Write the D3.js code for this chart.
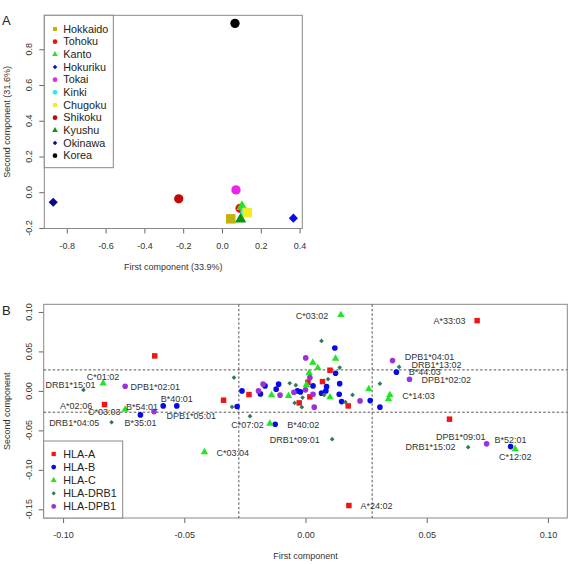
<!DOCTYPE html>
<html>
<head>
<meta charset="utf-8">
<script src="https://cdn.jsdelivr.net/npm/d3@7"></script>
<style>
  body { margin: 0; background: #fff; }
  svg { font-family: "Liberation Sans", Arial, sans-serif; }
</style>
</head>
<body>
<div id="chart"></div>
<script>
// ---- panel A : regions ----
const regions = ['Hokkaido', 'Tohoku', 'Kanto', 'Hokuriku', 'Tokai', 'Kinki', 'Chugoku', 'Shikoku', 'Kyushu', 'Okinawa', 'Korea'];
const regionPC1 = [0.045, 0.093, 0.103, 0.368, 0.072, 0.118, 0.130, -0.223, 0.096, -0.870, 0.067];
const regionPC2 = [-0.149, -0.090, -0.081, -0.145, 0.013, -0.112, -0.114, -0.037, -0.151, -0.056, 0.945];
const regionShapes = ['square', 'circle', 'triangle', 'diamond', 'circle', 'circle', 'square', 'circle', 'triangle', 'diamond', 'circle'];
const regionColors = ['#c2b20c', '#f01010', '#22e622', '#0a0ae6', '#ee22ee', '#22eeee', '#eeee22', '#c00808', '#0a960a', '#0a0a82', '#000000'];
const xTicksA = [-0.8, -0.6, -0.4, -0.2, 0.0, 0.2, 0.4];
const xTickLabelsA = ['-0.8', '-0.6', '-0.4', '-0.2', '0.0', '0.2', '0.4'];
const yTicksA = [-0.2, 0.0, 0.2, 0.4, 0.6, 0.8];
const yTickLabelsA = ['-0.2', '0.0', '0.2', '0.4', '0.6', '0.8'];

// ---- panel B : alleles [PC1, PC2, label] ----
const hlaA = [
  [-0.0622, 0.0443, ''], [-0.0829, -0.0173, 'A*02:06'], [-0.0338, -0.0118, ''], [-0.0233, -0.0046, ''],
  [-0.0026, -0.0152, ''], [0.0018, -0.0076, ''], [0.0070, 0.0118, ''], [0.0010, 0.0110, ''],
  [0.0101, 0.0262, ''], [0.0176, -0.0190, ''], [0.0708, 0.0890, 'A*33:03'], [0.0594, -0.0358, ''],
  [0.0179, -0.1452, 'A*24:02']
];
const hlaB = [
  [-0.0681, -0.0304, 'B*35:01'], [-0.0587, -0.0190, 'B*54:01'], [-0.0531, -0.0190, 'B*40:01'],
  [-0.0282, -0.0198, ''], [-0.0262, 0.0000, ''], [-0.0186, -0.0038, ''], [-0.0167, 0.0063, ''],
  [-0.0111, 0.0085, ''], [-0.0121, 0.0022, ''], [-0.0125, -0.0422, 'B*40:02'], [-0.0033, 0.0000, ''],
  [-0.0021, -0.0013, ''], [0.0031, 0.0063, ''], [0.0087, 0.0054, ''], [0.0084, 0.0000, ''],
  [0.0066, -0.0029, ''], [0.0121, 0.0544, ''], [0.0141, 0.0092, ''], [0.0124, 0.0224, ''],
  [0.0139, -0.0042, ''], [0.0149, -0.0135, ''], [0.0267, -0.0123, ''], [0.0307, -0.0206, ''],
  [0.0375, 0.0237, 'B*44:03'], [0.0846, -0.0705, 'B*52:01']
];
const hlaC = [
  [-0.0835, 0.0097, 'C*01:02'], [-0.0744, -0.0236, 'C*03:03'], [-0.0417, -0.0776, 'C*03:04'],
  [-0.0147, -0.0414, 'C*07:02'], [-0.0140, -0.0054, ''], [-0.0070, -0.0063, ''], [0.0004, 0.0076, ''],
  [0.0015, 0.0228, ''], [0.0030, 0.0358, ''], [0.0051, 0.0291, ''], [0.0124, 0.0409, ''],
  [0.0146, 0.0962, 'C*03:02'], [0.0101, -0.0080, ''], [0.0261, 0.0022, ''],
  [0.0348, -0.0051, 'C*14:03'], [0.0342, -0.0105, ''], [0.0865, -0.0738, 'C*12:02']
];
const hlaDRB1 = [
  [-0.0916, 0.0013, 'DRB1*15:01'], [-0.0800, -0.0397, 'DRB1*04:05'], [-0.0295, 0.0169, ''],
  [-0.0303, -0.0203, ''], [-0.0229, -0.0320, ''], [-0.0065, 0.0097, ''], [-0.0040, 0.0072, ''],
  [-0.0045, -0.0152, ''], [-0.0012, -0.0085, ''], [-0.0015, -0.0206, ''], [0.0066, 0.0633, ''],
  [0.0093, 0.0148, ''], [0.0077, -0.0051, ''], [0.0141, 0.0295, ''], [0.0194, -0.0051, ''],
  [0.0165, -0.0143, ''], [0.0307, 0.0092, ''], [0.0110, -0.0611, 'DRB1*09:01'],
  [0.0386, 0.0304, 'DRB1*13:02'], [0.0671, -0.0713, 'DRB1*15:02']
];
const hlaDPB1 = [
  [-0.0744, 0.0059, 'DPB1*02:01'], [-0.0625, -0.0262, 'DPB1*05:01'], [-0.0175, 0.0085, ''],
  [-0.0194, 0.0000, ''], [-0.0105, -0.0054, ''], [-0.0048, -0.0017, ''], [0.0000, 0.0013, ''],
  [0.0001, 0.0418, ''], [0.0018, 0.0168, ''], [0.0031, -0.0042, ''], [0.0036, -0.0206, ''],
  [0.0225, -0.0127, ''], [0.0359, 0.0384, 'DPB1*04:01'], [0.0429, 0.0148, 'DPB1*02:02'],
  [0.0747, -0.0671, 'DPB1*09:01']
];
const loci = ['HLA-A', 'HLA-B', 'HLA-C', 'HLA-DRB1', 'HLA-DPB1'];
const lociData = [hlaA, hlaB, hlaC, hlaDRB1, hlaDPB1];
const lociShapes = ['square', 'circle', 'triangle', 'diamond', 'circle'];
const lociColors = ['#f01414', '#0a0ae6', '#22e622', '#2e7d5a', '#9a32dc'];
const cutPC1 = [-0.0275, 0.0275];
const cutPC2 = [-0.027, 0.0266];
const xTicksB = [-0.10, -0.05, 0.00, 0.05, 0.10];
const xTickLabelsB = ['-0.10', '-0.05', '0.00', '0.05', '0.10'];
const yTicksB = [-0.15, -0.10, -0.05, 0.00, 0.05, 0.10];
const yTickLabelsB = ['-0.15', '-0.10', '-0.05', '0.00', '0.05', '0.10'];

// label placement: [anchor, dx, dy]
const labelPlace = {
  'C*01:02': ['middle', 0, -6.6], 'DRB1*15:01': ['end', 12, -4.7], 'DPB1*02:01': ['start', 5.4, 1],
  'A*02:06': ['end', -12.4, 1], 'C*03:03': ['end', -4.6, 2.6], 'B*54:01': ['end', -5.3, 1],
  'B*40:01': ['middle', 0, -7], 'B*35:01': ['middle', 0, 8.3], 'DPB1*05:01': ['start', 12.4, 4.3],
  'DRB1*04:05': ['end', -12.4, 1], 'C*07:02': ['end', -6, 1], 'B*40:02': ['start', 12, 1],
  'C*03:04': ['start', 12, 0.7], 'DRB1*09:01': ['end', -12.3, 0.7], 'C*03:02': ['end', -12.7, 1],
  'A*33:03': ['end', -11.6, 0.5], 'DPB1*04:01': ['start', 12.3, -3.4], 'DRB1*13:02': ['start', 12.4, -1.7],
  'B*44:03': ['start', 12.3, 0], 'DPB1*02:02': ['start', 12, 0.4], 'C*14:03': ['start', 12.3, 1.3],
  'DPB1*09:01': ['end', -1, -6.7], 'B*52:01': ['middle', 0, -6.4], 'C*12:02': ['middle', 0, 8],
  'DRB1*15:02': ['end', -12.6, 0], 'A*24:02': ['start', 11.7, 0.3]
};

const width = 574, height = 564;
const svg = d3.select('#chart').append('svg')
  .attr('width', width).attr('height', height);

const symTypes = { square: d3.symbolSquare, circle: d3.symbolCircle, triangle: d3.symbolTriangle, diamond: d3.symbolSquare };
function marker(g, shape, area, x, y, color) {
  g.append('path')
    .attr('d', d3.symbol().type(symTypes[shape]).size(area)())
    .attr('transform', `translate(${x},${y})` + (shape === 'diamond' ? ' rotate(45)' : ''))
    .attr('fill', color);
}

function frame(box, xScale, yScale, xTicks, xLabels, yTicks, yLabels) {
  svg.append('g')
    .attr('transform', `translate(0,${box.bottom})`)
    .call(d3.axisBottom(xScale).tickValues(xTicks).tickFormat((d, i) => xLabels[i]).tickSize(5).tickPadding(9))
    .call(g => g.select('.domain').remove())
    .call(g => g.selectAll('line').attr('stroke', '#666'))
    .call(g => g.selectAll('text').attr('font-size', '9px').attr('fill', '#333').attr('font-family', null));

  const ya = svg.append('g')
    .attr('transform', `translate(${box.left},0)`)
    .call(d3.axisLeft(yScale).tickValues(yTicks).tickFormat('').tickSize(5))
    .call(g => g.select('.domain').remove())
    .call(g => g.selectAll('line').attr('stroke', '#666'));
  yTicks.forEach((t, i) => {
    svg.append('text')
      .attr('transform', `translate(${box.left - 15},${yScale(t)}) rotate(-90)`)
      .attr('text-anchor', 'middle')
      .attr('dy', '0.35em')
      .attr('font-size', '9px')
      .attr('fill', '#333')
      .text(yLabels[i]);
  });

  svg.append('rect')
    .attr('x', box.left).attr('y', box.top)
    .attr('width', box.right - box.left).attr('height', box.bottom - box.top)
    .attr('fill', 'none').attr('stroke', '#888').attr('stroke-width', 1);
}

// ================= Panel A =================
const boxA = { left: 44.3, right: 302.3, top: 15.3, bottom: 228.5 };
const xA = d3.scaleLinear().domain([-0.916, 0.414]).range([boxA.left, boxA.right]);
const yA = d3.scaleLinear().domain([-0.203, 0.99]).range([boxA.bottom, boxA.top]);

frame(boxA, xA, yA, xTicksA, xTickLabelsA, yTicksA, yTickLabelsA);

const sizeA = { square: 90, circle: 68, triangle: 55, diamond: 42 };
const gA = svg.append('g');
regions.forEach((r, i) => {
  marker(gA, regionShapes[i], sizeA[regionShapes[i]], xA(regionPC1[i]), yA(regionPC2[i]), regionColors[i]);
});

// legend A
const legA = svg.append('g');
legA.append('rect')
  .attr('x', boxA.left).attr('y', boxA.top)
  .attr('width', 69).attr('height', 152.4)
  .attr('fill', '#fff').attr('stroke', '#888');
const legSizeA = { square: 16, circle: 17, triangle: 14, diamond: 10 };
regions.forEach((r, i) => {
  const y = 29 + i * 12.67;
  marker(legA, regionShapes[i], legSizeA[regionShapes[i]], 55, y, regionColors[i]);
  legA.append('text')
    .attr('x', 63.3).attr('y', y).attr('dy', '0.35em')
    .attr('font-size', '10.8px').attr('fill', '#222')
    .text(r);
});

svg.append('text')
  .attr('x', (boxA.left + boxA.right) / 2).attr('y', 267.3).attr('dy', '0.35em')
  .attr('text-anchor', 'middle').attr('font-size', '9px').attr('fill', '#333')
  .text('First component (33.9%)');
svg.append('text')
  .attr('transform', `translate(7.3,${(boxA.top + boxA.bottom) / 2}) rotate(-90)`)
  .attr('dy', '0.35em')
  .attr('text-anchor', 'middle').attr('font-size', '9px').attr('fill', '#333')
  .text('Second component (31.6%)');
svg.append('text')
  .attr('x', 2).attr('y', 20.7).attr('dy', '0.35em')
  .attr('font-size', '13px').attr('fill', '#222')
  .text('A');

// ================= Panel B =================
const boxB = { left: 43.7, right: 567.3, top: 304.3, bottom: 518 };
const xB = d3.scaleLinear().domain([-0.108, 0.108]).range([boxB.left, boxB.right]);
const yB = d3.scaleLinear().domain([-0.161, 0.1097]).range([boxB.bottom, boxB.top]);

frame(boxB, xB, yB, xTicksB, xTickLabelsB, yTicksB, yTickLabelsB);

// cut-off lines
const cuts = svg.append('g')
  .attr('stroke', '#555').attr('stroke-width', 1).attr('stroke-dasharray', '2.5,2');
cutPC1.forEach(c => {
  cuts.append('line')
    .attr('x1', xB(c)).attr('x2', xB(c))
    .attr('y1', boxB.top).attr('y2', boxB.bottom);
});
cutPC2.forEach(c => {
  cuts.append('line')
    .attr('x1', boxB.left).attr('x2', boxB.right)
    .attr('y1', yB(c)).attr('y2', yB(c));
});

const sizeB = { square: 30, circle: 25, triangle: 24, diamond: 11 };
const gB = svg.append('g');
lociData.forEach((series, k) => {
  series.forEach(d => {
    marker(gB, lociShapes[k], sizeB[lociShapes[k]], xB(d[0]), yB(d[1]), lociColors[k]);
  });
});

// allele labels
const gL = svg.append('g').attr('font-size', '9px').attr('fill', '#333');
lociData.forEach(series => {
  series.filter(d => d[2]).forEach(d => {
    const p = labelPlace[d[2]];
    gL.append('text')
      .attr('x', xB(d[0]) + p[1]).attr('y', yB(d[1]) + p[2]).attr('dy', '0.35em')
      .attr('text-anchor', p[0])
      .text(d[2]);
  });
});

// legend B
const legB = svg.append('g');
legB.append('rect')
  .attr('x', boxB.left).attr('y', 441)
  .attr('width', 79).attr('height', boxB.bottom - 441)
  .attr('fill', '#fff').attr('stroke', '#888');
const legSizeB = { square: 18, circle: 18, triangle: 16, diamond: 9 };
loci.forEach((l, i) => {
  const y = 454 + i * 13.1;
  marker(legB, lociShapes[i], legSizeB[lociShapes[i]], 53.7, y, lociColors[i]);
  legB.append('text')
    .attr('x', 63.3).attr('y', y).attr('dy', '0.35em')
    .attr('font-size', '10.8px').attr('fill', '#222')
    .text(l);
});

svg.append('text')
  .attr('x', (boxB.left + boxB.right) / 2).attr('y', 556).attr('dy', '0.35em')
  .attr('text-anchor', 'middle').attr('font-size', '9px').attr('fill', '#333')
  .text('First component');
svg.append('text')
  .attr('transform', `translate(7.3,${(boxB.top + boxB.bottom) / 2}) rotate(-90)`)
  .attr('dy', '0.35em')
  .attr('text-anchor', 'middle').attr('font-size', '9px').attr('fill', '#333')
  .text('Second component');
svg.append('text')
  .attr('x', 2).attr('y', 310.7).attr('dy', '0.35em')
  .attr('font-size', '13px').attr('fill', '#222')
  .text('B');
</script>
</body>
</html>
